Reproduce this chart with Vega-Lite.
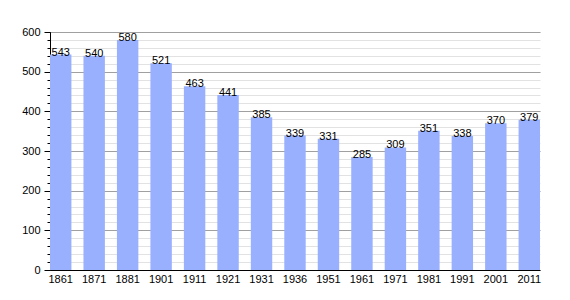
{
  "$schema": "https://vega.github.io/schema/vega-lite/v6.json",
  "width": 490,
  "height": 238,
  "autosize": {"type": "none"},
  "padding": {"left": 50, "top": 32, "right": 30, "bottom": 30},
  "background": "white",
  "config": {"view": {"stroke": null}, "font": "Liberation Sans"},
  "data": {"values": [
    {"year": "1861", "pop": 543},
    {"year": "1871", "pop": 540},
    {"year": "1881", "pop": 580},
    {"year": "1901", "pop": 521},
    {"year": "1911", "pop": 463},
    {"year": "1921", "pop": 441},
    {"year": "1931", "pop": 385},
    {"year": "1936", "pop": 339},
    {"year": "1951", "pop": 331},
    {"year": "1961", "pop": 285},
    {"year": "1971", "pop": 309},
    {"year": "1981", "pop": 351},
    {"year": "1991", "pop": 338},
    {"year": "2001", "pop": 370},
    {"year": "2011", "pop": 379}
  ]},
  "encoding": {
    "x": {"field": "year", "type": "ordinal", "sort": null,
      "scale": {"paddingInner": 0.36, "paddingOuter": 0},
      "axis": {"title": null, "labelAngle": 0, "ticks": false, "domainColor": "black", "labelColor": "black", "labelFontSize": 11, "labelPadding": 3, "grid": false}}
  },
  "layer": [
    {
      "mark": {"type": "rule", "opacity": 0},
      "encoding": {
        "y": {"field": "pop", "type": "quantitative", "scale": {"domain": [0, 600], "nice": false},
          "axis": {"title": null, "orient": "left", "values": [0,20,40,60,80,100,120,140,160,180,200,220,240,260,280,300,320,340,360,380,400,420,440,460,480,500,520,540,560,580,600], "labels": false, "grid": true, "gridColor": "#e2e2e2", "tickSize": 3, "tickColor": "black", "domain": false}}
      }
    },
    {
      "mark": {"type": "bar", "color": "#99b0ff"},
      "encoding": {
        "y": {"field": "pop", "type": "quantitative", "scale": {"domain": [0, 600], "nice": false},
          "axis": {"title": null, "orient": "left", "values": [0,100,200,300,400,500,600], "grid": true, "gridColor": "#a0a0a0", "tickSize": 6, "tickColor": "black", "domainColor": "black", "labelColor": "black", "labelFontSize": 11, "labelPadding": 4}}
      }
    },
    {
      "mark": {"type": "text", "baseline": "bottom", "dy": 3, "fontSize": 11, "color": "black"},
      "encoding": {
        "y": {"field": "pop", "type": "quantitative", "axis": null},
        "text": {"field": "pop", "type": "quantitative"}
      }
    }
  ],
  "resolve": {"axis": {"y": "independent"}}
}
